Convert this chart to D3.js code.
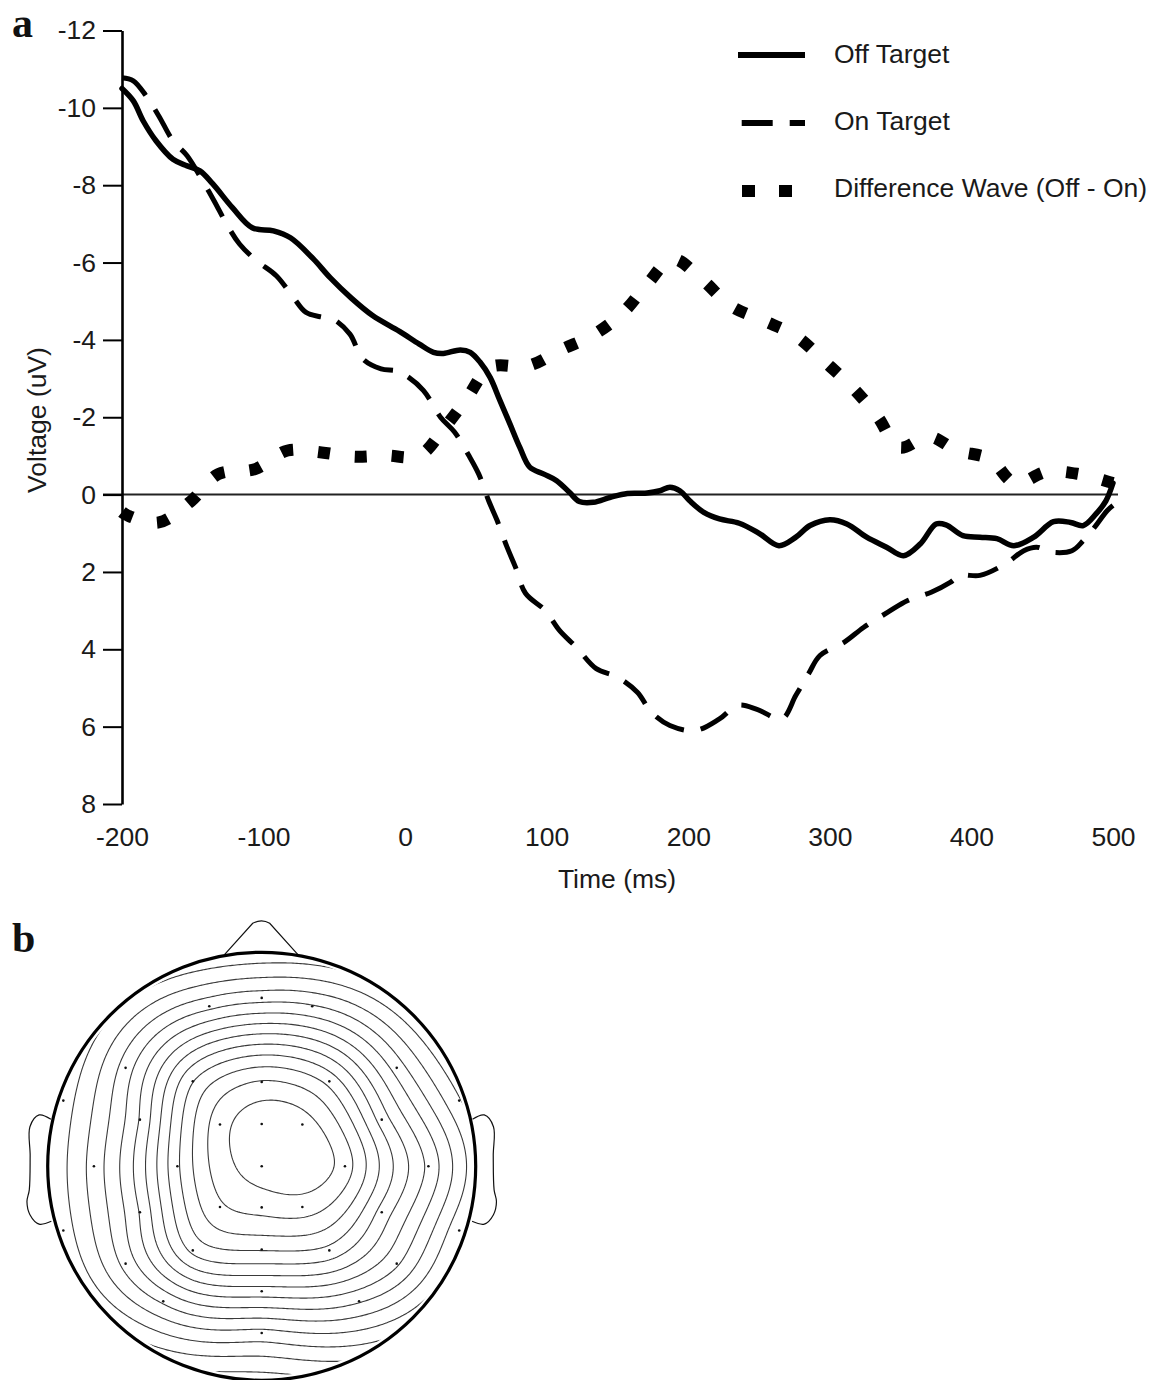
<!DOCTYPE html>
<html>
<head>
<meta charset="utf-8">
<script src="https://cdn.jsdelivr.net/npm/d3@7"></script>
<style>
  body { margin: 0; background: #fff; }
  svg { display: block; }
  .sans { font-family: "Liberation Sans", Arial, Helvetica, sans-serif; fill: #1a1a1a; }
  .panel { font-family: "Liberation Serif", "Times New Roman", serif; font-weight: bold; fill: #111; }
</style>
</head>
<body>
<svg id="fig" width="1162" height="1380"></svg>
<script>
// ---------------- Grand-average waveforms (time in ms, amplitude in µV) ----------------
const offTime = [-200,-192,-185,-176,-164,-154,-145,-136,-122,-108,-93,-81,-65,-53,-38,-23,-4,10,20,27,39,46,53,60,67,74,81,88,98,107,116,123,133,145,157,171,180,187,194,201,211,222,236,250,264,276,286,300,312,326,340,352,364,375,382,394,406,418,430,444,458,470,479,488,495,500];
const offVolt = [-10.5,-10.18,-9.66,-9.15,-8.67,-8.5,-8.37,-8.04,-7.42,-6.9,-6.82,-6.64,-6.1,-5.61,-5.08,-4.63,-4.22,-3.89,-3.68,-3.65,-3.74,-3.68,-3.42,-3.03,-2.43,-1.83,-1.22,-0.71,-0.53,-0.36,-0.06,0.18,0.2,0.07,-0.03,-0.04,-0.1,-0.19,-0.1,0.16,0.46,0.63,0.74,1.0,1.32,1.1,0.8,0.65,0.76,1.1,1.36,1.58,1.27,0.76,0.78,1.06,1.1,1.14,1.32,1.1,0.7,0.72,0.8,0.5,0.16,-0.3];

const onTime = [-200,-192,-183,-174,-164,-154,-143,-135,-126,-117,-105,-91,-79,-70,-60,-51,-39,-30,-17,-6,1,13,25,35,45,52,59,65,72,78,85,99,109,121,135,150,164,174,187,205,222,235,249,266,276,285,293,310,324,341,355,372,385,392,406,424,437,446,457,471,479,486,496,500];
const onVolt = [-10.78,-10.7,-10.31,-9.79,-9.15,-8.76,-8.11,-7.6,-6.99,-6.48,-6.05,-5.66,-5.1,-4.71,-4.6,-4.54,-4.15,-3.51,-3.25,-3.2,-3.07,-2.69,-2.0,-1.61,-1.01,-0.53,0.16,0.67,1.36,1.88,2.55,3.0,3.51,3.95,4.5,4.72,5.11,5.63,5.97,6.1,5.8,5.45,5.56,5.8,5.19,4.63,4.16,3.82,3.43,3.04,2.74,2.52,2.27,2.09,2.09,1.79,1.45,1.36,1.49,1.45,1.19,0.89,0.41,0.28];

const diffTime = [-200,-196,-174,-151,-132,-106,-83,-59,-36,-14,10,28,44,60,87,111,133,154,171,189,210,230,253,276,297,317,334,349,370,390,413,431,453,476,498,500];
const diffVolt = [0.45,0.54,0.72,0.16,-0.53,-0.66,-1.14,-1.09,-0.98,-1.01,-1.01,-1.74,-2.51,-3.29,-3.33,-3.76,-4.13,-4.71,-5.44,-6.09,-5.55,-4.88,-4.5,-4.1,-3.42,-2.73,-2.0,-1.22,-1.5,-1.14,-0.92,-0.29,-0.59,-0.53,-0.32,-0.3];

const seriesNames = ["Off Target", "On Target", "Difference Wave (Off - On)"];
const xTicks = [-200, -100, 0, 100, 200, 300, 400, 500];
const yTicks = [-12, -10, -8, -6, -4, -2, 0, 2, 4, 6, 8];

// ---------------- Scalp map: electrode positions (unit head radius) and potentials (µV) ----------------
const elecX = [0, 0, -0.195, 0.19, 0.389, -0.394, -0.195, 0, 0.19, 0, -0.322, 0.316, 0, -0.245, 0.236, -0.636, 0.631, -0.927, 0.923, -0.569, 0.561, -0.784, 0.779, -0.569, 0.561, -0.927, 0.923, -0.322, 0, 0.316, -0.636, 0.631, 0, -0.46, 0.455, 0];
const elecY = [0, -0.198, -0.195, -0.195, 0, 0, 0.19, 0.192, 0.19, -0.394, -0.397, -0.397, -0.787, -0.748, -0.748, -0.46, -0.46, -0.307, -0.307, -0.218, -0.218, 0, 0, 0.215, 0.215, 0.3, 0.3, 0.393, 0.389, 0.393, 0.455, 0.455, 0.584, 0.631, 0.631, 0.779];
const elecV = [-5.7, -5.8, -5.48, -5.8, -5.68, -4.4, -5.2, -5.24, -5.42, -5.32, -4.6, -4.8, -2.16, -2.2, -2.4, -2.2, -2.6, -1.0, -1.6, -2.6, -3.6, -1.8, -3.3, -2.6, -3.6, -1.0, -1.6, -4.4, -4.4, -4.4, -2.2, -3.0, -3.0, -2.0, -2.4, -1.32];
const contourStep = 0.4;   // µV between iso-lines

// ================================================================================
const svg = d3.select("#fig");
svg.append("rect").attr("width", 1162).attr("height", 1380).attr("fill", "#fff");

// ---------------- Panel a: waveforms ----------------
const x = d3.scaleLinear().domain([-200, 500]).range([122, 1113]);
const y = d3.scaleLinear().domain([-12, 8]).range([30.5, 804]);
const FS = 26.5;

const gA = svg.append("g");

// baseline at 0 µV
gA.append("line")
  .attr("x1", x(-200) - 19).attr("x2", x(500) + 5)
  .attr("y1", y(0)).attr("y2", y(0))
  .attr("stroke", "#222").attr("stroke-width", 2);

const toPts = (t, v) => t.map((d, i) => [d, v[i]]);
const wave = d3.line()
  .x(d => x(d[0])).y(d => y(d[1]))
  .curve(d3.curveCatmullRom.alpha(0.5));

const styles = [
  { width: 5.5, dash: null },
  { width: 5, dash: "31,17" },
  { width: 12, dash: "12,25" }
];
const series = [toPts(offTime, offVolt), toPts(onTime, onVolt), toPts(diffTime, diffVolt)];

series.forEach((pts, i) => {
  const p = gA.append("path")
    .attr("d", wave(pts))
    .attr("fill", "none")
    .attr("stroke", "#000")
    .attr("stroke-width", styles[i].width)
    .attr("stroke-linejoin", "round");
  if (styles[i].dash) p.attr("stroke-dasharray", styles[i].dash);
  else p.attr("stroke-linecap", "round");
});

// y axis
const yAxis = d3.axisLeft(y).tickValues(yTicks).tickSize(19).tickSizeOuter(0)
  .tickPadding(7).tickFormat(d => String(d));
const gy = gA.append("g").attr("transform", `translate(${x(-200)},0)`).call(yAxis);
gy.select(".domain").attr("stroke", "#000").attr("stroke-width", 2.6);
gy.selectAll(".tick line").attr("stroke", "#000").attr("stroke-width", 2);
gy.selectAll(".tick text").attr("class", "sans").style("font-size", FS + "px").attr("fill", "#1a1a1a");

// x tick labels only (no axis line)
const xAxis = d3.axisBottom(x).tickValues(xTicks).tickSize(0).tickPadding(7).tickFormat(d => String(d));
const gx = gA.append("g").attr("transform", "translate(0,820)").call(xAxis);
gx.select(".domain").remove();
gx.selectAll(".tick text").attr("class", "sans").style("font-size", FS + "px").attr("fill", "#1a1a1a");

// axis titles
gA.append("text").attr("class", "sans")
  .attr("transform", "translate(46,420) rotate(-90)")
  .attr("text-anchor", "middle").style("font-size", FS + "px")
  .text("Voltage (uV)");
gA.append("text").attr("class", "sans")
  .attr("x", 617).attr("y", 888)
  .attr("text-anchor", "middle").style("font-size", FS + "px")
  .text("Time (ms)");

// legend
const legendRows = [
  { y: 55, x1: 738, width: 6, dash: null, ty: 62.5 },
  { y: 123, x1: 741.7, width: 6, dash: "31,17", ty: 130 },
  { y: 191, x1: 742, width: 12, dash: "13,24", ty: 197 }
];
legendRows.forEach((r, i) => {
  const l = gA.append("line")
    .attr("x1", r.x1).attr("x2", 805).attr("y1", r.y).attr("y2", r.y)
    .attr("stroke", "#000").attr("stroke-width", r.width);
  if (r.dash) l.attr("stroke-dasharray", r.dash);
  gA.append("text").attr("class", "sans")
    .attr("x", 834).attr("y", r.ty).style("font-size", FS + "px")
    .text(seriesNames[i]);
});

svg.append("text").attr("class", "panel").attr("x", 12).attr("y", 37)
  .style("font-size", "42px").text("a");

// ---------------- Panel b: scalp topography ----------------
const cx = 261.7, cy = 1166.3, R = 214;
const hx = d3.scaleLinear().domain([-1, 1]).range([cx - R, cx + R]);
const hy = d3.scaleLinear().domain([-1, 1]).range([cy - R, cy + R]);

// smoothing thin-plate spline through the electrode potentials
function thinPlate(xs, ys, vs, lambda) {
  const n = xs.length, m = n + 3;
  const phi = r => (r > 0 ? r * r * Math.log(r) : 0);
  const A = Array.from({ length: m }, () => new Float64Array(m + 1));
  for (let i = 0; i < n; i++) {
    for (let j = 0; j < n; j++) {
      A[i][j] = phi(Math.hypot(xs[i] - xs[j], ys[i] - ys[j]));
    }
    A[i][i] += lambda;
    A[i][n] = 1; A[i][n + 1] = xs[i]; A[i][n + 2] = ys[i];
    A[n][i] = 1; A[n + 1][i] = xs[i]; A[n + 2][i] = ys[i];
    A[i][m] = vs[i];
  }
  // Gaussian elimination with partial pivoting
  for (let c = 0; c < m; c++) {
    let piv = c;
    for (let r = c + 1; r < m; r++) if (Math.abs(A[r][c]) > Math.abs(A[piv][c])) piv = r;
    [A[c], A[piv]] = [A[piv], A[c]];
    for (let r = 0; r < m; r++) {
      if (r === c) continue;
      const f = A[r][c] / A[c][c];
      if (f === 0) continue;
      for (let k = c; k <= m; k++) A[r][k] -= f * A[c][k];
    }
  }
  const sol = A.map((row, i) => row[m] / row[i]);
  return (px, py) => {
    let s = sol[n] + sol[n + 1] * px + sol[n + 2] * py;
    for (let i = 0; i < n; i++) s += sol[i] * phi(Math.hypot(px - xs[i], py - ys[i]));
    return s;
  };
}

const field = thinPlate(elecX, elecY, elecV, 0.05);
const N = 240, ext = 1.06;
const grid = new Float64Array(N * N);
for (let j = 0; j < N; j++) {
  for (let i = 0; i < N; i++) {
    const u = -ext + (2 * ext) * i / (N - 1);
    const v = -ext + (2 * ext) * j / (N - 1);
    grid[j * N + i] = field(u, v);
  }
}
const vMax = d3.max(grid), vMin = d3.min(grid);
const levels = d3.range(1, 40).map(k => -6 + contourStep * k).filter(t => t > vMin && t < vMax);
const iso = d3.contours().size([N, N]).thresholds(levels)(grid);

const cell = (2 * ext * R) / (N - 1);
const gridPath = d3.geoPath(d3.geoTransform({
  point(px, py) { this.stream.point(cx - ext * R + (px - 0.5) * cell, cy - ext * R + (py - 0.5) * cell); }
}));

const defs = svg.append("defs");
defs.append("clipPath").attr("id", "scalp")
  .append("circle").attr("cx", cx).attr("cy", cy).attr("r", R - 4);

const gB = svg.append("g");
gB.append("g").attr("clip-path", "url(#scalp)")
  .selectAll("path").data(iso).join("path")
  .attr("d", gridPath)
  .attr("fill", "none").attr("stroke", "#3a3a3a").attr("stroke-width", 1.1);

// electrodes
gB.selectAll("circle.el").data(elecX).join("circle")
  .attr("class", "el")
  .attr("cx", d => hx(d)).attr("cy", (d, i) => hy(elecY[i]))
  .attr("r", 1.3).attr("fill", "#111");

// nose
gB.append("path")
  .attr("d", `M${cx - 37},${cy - R + 2} L${cx - 9},${cy - R - 29} Q${cx},${cy - R - 34} ${cx + 8},${cy - R - 29} L${cx + 36},${cy - R + 2}`)
  .attr("fill", "#fff").attr("stroke", "#111").attr("stroke-width", 1.2);

// ears (left outline, mirrored for right)
const earPts = [[-0.985, -0.22], [-1.04, -0.24], [-1.083, -0.185], [-1.082, -0.05], [-1.086, 0.11], [-1.097, 0.165], [-1.083, 0.226], [-1.04, 0.27], [-0.983, 0.257]];
const earLine = d3.line().x(d => hx(d[0])).y(d => hy(d[1])).curve(d3.curveCatmullRom.alpha(0.5));
[1, -1].forEach(s => {
  gB.append("path")
    .attr("d", earLine(earPts.map(p => [p[0] * s, p[1]])))
    .attr("fill", "#fff").attr("stroke", "#111").attr("stroke-width", 1.2);
});

// head outline
gB.append("circle").attr("cx", cx).attr("cy", cy).attr("r", R)
  .attr("fill", "none").attr("stroke", "#000").attr("stroke-width", 3.2);

svg.append("text").attr("class", "panel").attr("x", 12).attr("y", 952)
  .style("font-size", "42px").text("b");
</script>
</body>
</html>
